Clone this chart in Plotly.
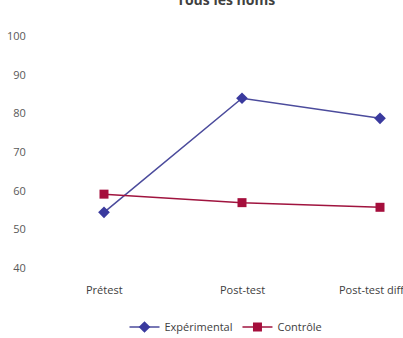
import plotly.graph_objects as go

categories = ["Prétest", "Post-test", "Post-test différé"]
experimental = [54.4, 83.9, 78.7]
controle = [59.1, 56.9, 55.7]
y_ticks = [40, 50, 60, 70, 80, 90, 100]

W, H = 403, 338
L, T, B = 35, 36, 70
PH = H - T - B
xpos = list(range(len(categories)))

fig = go.Figure()
fig.add_trace(go.Scatter(
    x=xpos, y=experimental, name="Expérimental", mode="lines+markers",
    line=dict(color="#4B4B9C", width=1.5),
    marker=dict(symbol="diamond", size=9, color="#3A3A9E"),
))
fig.add_trace(go.Scatter(
    x=xpos, y=controle, name="Contrôle", mode="lines+markers",
    line=dict(color="#A0143F", width=1.5),
    marker=dict(symbol="square", size=9, color="#A50E3C"),
))

# category labels as annotations so the last one is clipped at the edge like the reference
for xv, lab in zip(xpos, categories):
    fig.add_annotation(x=xv, xref="x", y=-(289 - (T + PH)) / PH, yref="paper",
                       yanchor="middle", xanchor="center", text=lab, showarrow=False,
                       font=dict(size=11, color="#404040"))

fig.update_layout(
    width=W, height=H,
    margin=dict(l=L, r=0, t=T, b=B, autoexpand=False),
    paper_bgcolor="white", plot_bgcolor="white",
    font=dict(family="Open Sans, Liberation Sans, sans-serif", size=11, color="#595959"),
    title=dict(text="<b>Tous les noms</b>", x=226 / W, xanchor="center",
               y=1.0, yanchor="middle", yref="container",
               font=dict(size=14, color="#404040")),
    xaxis=dict(tickmode="array", tickvals=xpos, showticklabels=False,
               range=[-0.5, (W - 104) / 138.0], showgrid=False, zeroline=False,
               showline=False),
    yaxis=dict(range=[40, 100], tickvals=y_ticks, showgrid=False, zeroline=False,
               showline=False, ticks="outside", ticklen=6, tickcolor="white",
               tickfont=dict(size=11, color="#595959")),
    legend=dict(orientation="h", x=(226 - L) / (W - L), xanchor="center",
                y=-(327 - (T + PH)) / PH, yanchor="middle",
                font=dict(size=11, color="#404040"), itemwidth=30),
    showlegend=True,
)

fig.write_html("out.html")
